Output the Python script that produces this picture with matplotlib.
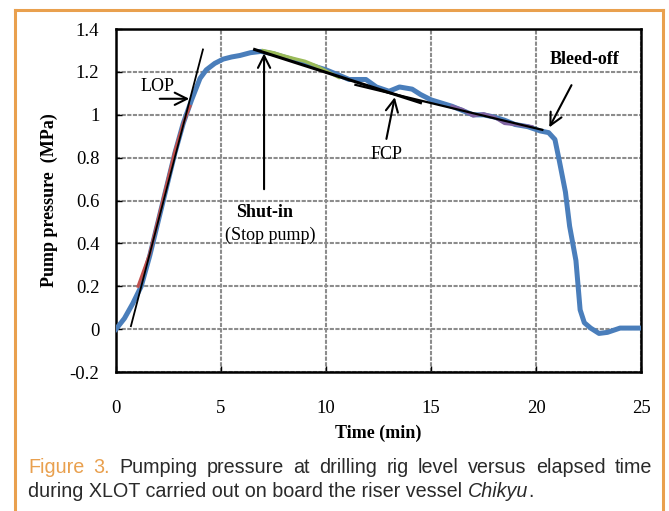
import matplotlib
matplotlib.use("Agg")
import matplotlib.pyplot as plt
from matplotlib.lines import Line2D

# pump pressure record (min, MPa)
time_min = [0, 0.4, 0.8, 1.2, 1.6, 2.0, 2.4, 2.8, 3.2, 3.6, 4.0, 4.3, 4.7, 5.1,
            5.5, 5.9, 6.4, 6.9, 7.5, 8.0, 8.5, 9.0, 9.5, 10.0, 10.5, 11.1, 11.9,
            12.4, 13.0, 13.5, 14.1, 14.5, 15.0, 15.5, 16.0, 16.5, 17.0, 17.5,
            18.0, 18.5, 19.0, 19.6, 20.2, 20.6, 20.9, 21.1, 21.4, 21.6, 21.9,
            22.1, 22.3, 22.6, 23.0, 23.4, 24.0, 25.0]
pressure = [0, 0.05, 0.12, 0.2, 0.34, 0.5, 0.66, 0.82, 0.96, 1.07, 1.17, 1.21,
            1.24, 1.26, 1.27, 1.277, 1.29, 1.296, 1.285, 1.27, 1.255, 1.24,
            1.225, 1.21, 1.19, 1.165, 1.165, 1.13, 1.11, 1.13, 1.12, 1.095,
            1.07, 1.055, 1.04, 1.02, 1.0, 1.0, 0.99, 0.975, 0.955, 0.945,
            0.925, 0.917, 0.885, 0.79, 0.64, 0.48, 0.32, 0.09, 0.03, 0.005,
            -0.02, -0.015, 0.005, 0.005]

# highlighted sections
red_t = [1.05, 1.6, 2.0, 2.4, 2.8, 3.2, 3.52]
red_p = [0.2, 0.35, 0.51, 0.67, 0.83, 0.96, 1.04]
green_t = [7.0, 7.5, 8.0, 8.5, 9.0, 9.5, 10.0, 10.6]
green_p = [1.30, 1.29, 1.275, 1.262, 1.25, 1.23, 1.205, 1.175]
purple_t = [16.0, 16.5, 17.0, 17.5, 18.0, 18.5, 19.0, 19.8]
purple_p = [1.04, 1.025, 0.995, 1.005, 0.99, 0.96, 0.955, 0.945]

# fitted lines
lop_t, lop_p = [0.71, 4.14], [0.014, 1.305]
shut_t, shut_p = [6.6, 14.5], [1.305, 1.057]
fcp_t, fcp_p = [11.4, 20.3], [1.14, 0.93]

blue = "#4a7ebb"
orange = "#e9a04e"

fig = plt.figure(figsize=(6.69, 5.11), dpi=100)
ax = fig.add_axes([0.1734, 0.272, 0.7848, 0.671])

ax.plot(time_min, pressure, color=blue, lw=3.6, solid_joinstyle="round", zorder=3)
ax.plot(red_t, red_p, color="#c0504d", lw=2.2, zorder=4)
ax.plot(green_t, green_p, color="#9bbb59", lw=2.4, zorder=4)
ax.plot(purple_t, purple_p, color="#8064a2", lw=2.4, zorder=4)

ax.plot(lop_t, lop_p, color="black", lw=1.3, zorder=5)
ax.plot(shut_t, shut_p, color="black", lw=2.2, zorder=5)
ax.plot(fcp_t, fcp_p, color="black", lw=1.6, zorder=5)

serif = "Liberation Serif"
arrow = dict(arrowstyle="->", color="black", lw=1.5, mutation_scale=22)

ax.annotate("", xy=(3.62, 1.075), xytext=(1.95, 1.075), arrowprops=arrow, zorder=6)
ax.text(2.0, 1.13, "LOP", family=serif, fontsize=13, ha="center", va="center")

ax.annotate("", xy=(7.05, 1.30), xytext=(7.05, 0.64), arrowprops=arrow, zorder=6)
ax.text(7.05, 0.545, "Shut-in", family=serif, fontsize=13, fontweight="bold",
        ha="center", va="center")
ax.text(7.35, 0.44, "(Stop pump)", family=serif, fontsize=13, ha="center", va="center")

ax.annotate("", xy=(13.3, 1.095), xytext=(12.85, 0.875), arrowprops=arrow, zorder=6)
ax.text(12.9, 0.815, "FCP", family=serif, fontsize=13, ha="center", va="center")

ax.annotate("", xy=(20.57, 0.93), xytext=(21.75, 1.15), arrowprops=arrow, zorder=6)
ax.text(22.3, 1.26, "Bleed-off", family=serif, fontsize=13, fontweight="bold",
        ha="center", va="center")

ax.set_xlim(0, 25)
ax.set_ylim(-0.2, 1.4)
ax.set_xticks([0, 5, 10, 15, 20, 25])
ax.set_yticks([-0.2, 0, 0.2, 0.4, 0.6, 0.8, 1.0, 1.2, 1.4])
ax.set_yticklabels(["-0.2", "0", "0.2", "0.4", "0.6", "0.8", "1", "1.2", "1.4"])
ax.tick_params(axis="both", direction="in", length=4, width=1, labelsize=13.5)
ax.tick_params(axis="x", pad=20)
ax.tick_params(axis="y", pad=12)
for lab in ax.get_xticklabels() + ax.get_yticklabels():
    lab.set_family(serif)

ax.grid(True, color="#8c8c8c", lw=1.5, ls=(0, (2, 0.7)), zorder=0)
ax.set_axisbelow(True)
for sp in ax.spines.values():
    sp.set_linewidth(1.8)

ax.set_xlabel("Time (min)", family=serif, fontsize=13, fontweight="bold", labelpad=6)
ax.set_ylabel("Pump pressure  (MPa)", family=serif, fontsize=13, fontweight="bold",
              labelpad=8)

# orange frame around figure
fig.add_artist(Line2D([15 / 669, 15 / 669], [0, 1 - 10 / 511], color=orange, lw=2.2))
fig.add_artist(Line2D([663 / 669, 663 / 669], [0, 1 - 10 / 511], color=orange, lw=2.2))
fig.add_artist(Line2D([15 / 669, 663 / 669], [1 - 10 / 511, 1 - 10 / 511], color=orange, lw=2.2))

# caption (first line justified)
sans = "Liberation Sans"
cap_size = 14.2
ink = "#2a2a2a"
fig.canvas.draw()
r = fig.canvas.get_renderer()
W = fig.bbox.width
x0 = 28 / 669
x_right = 652 / 669
y1 = 1 - 467 / 511
y2 = 1 - 491 / 511

words = ["Figure", "3.", "Pumping", "pressure", "at", "drilling", "rig", "level",
         "versus", "elapsed", "time"]
texts = []
for i, wd in enumerate(words):
    c = orange if i < 2 else ink
    texts.append(fig.text(0, y1, wd, color=c, family=sans, fontsize=cap_size, va="center"))
widths = [t.get_window_extent(r).width / W for t in texts]
gap = (x_right - x0 - sum(widths)) / (len(words) - 1)
x = x0
for t, w in zip(texts, widths):
    t.set_x(x)
    x += w + gap

t2 = fig.text(x0, y2, "during XLOT carried out on board the riser vessel ",
              color=ink, family=sans, fontsize=cap_size, va="center")
w2 = t2.get_window_extent(r).width / W
t3 = fig.text(x0 + w2, y2, "Chikyu", color=ink, family=sans, fontsize=cap_size,
              style="italic", va="center")
w3 = t3.get_window_extent(r).width / W
fig.text(x0 + w2 + w3, y2, ".", color=ink, family=sans, fontsize=cap_size, va="center")

fig.savefig("out.png", dpi=100)
